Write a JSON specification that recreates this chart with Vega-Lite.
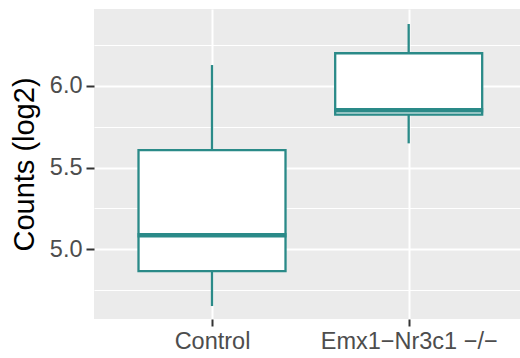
{
  "$schema": "https://vega.github.io/schema/vega-lite/v6.json",
  "width": 426,
  "height": 310,
  "autosize": {"type": "none"},
  "padding": {"left": 94, "right": 0, "top": 9, "bottom": 39},
  "background": "white",
  "data": {
    "values": [
      {"group": "Control", "lower": 4.653, "q1": 4.867, "median": 5.086, "q3": 5.606, "upper": 6.127},
      {"group": "Emx1−Nr3c1 −/−", "lower": 5.648, "q1": 5.824, "median": 5.851, "q3": 6.199, "upper": 6.378}
    ]
  },
  "config": {
    "view": {"fill": "#EBEBEB", "stroke": null},
    "font": "Liberation Sans",
    "axis": {
      "domain": false,
      "labelFont": "Liberation Sans",
      "titleFont": "Liberation Sans",
      "labelColor": "#4D4D4D",
      "gridColor": "#FFFFFF",
      "labelFontSize": 23.5,
      "titleFontSize": 29,
      "titleFontWeight": "normal",
      "titleColor": "#000000"
    }
  },
  "resolve": {"axis": {"y": "independent"}},
  "encoding": {
    "x": {
      "field": "group",
      "type": "nominal",
      "sort": null,
      "scale": {"type": "point", "padding": 0.583, "align": 0.5146},
      "axis": {
        "title": null,
        "labelAngle": 0,
        "grid": true,
        "tickSize": 7,
        "tickWidth": 2,
        "tickColor": "#333333",
        "gridWidth": 2,
        "labelPadding": 3
      }
    }
  },
  "layer": [
    {
      "mark": {"type": "rule", "color": "#2A8A88", "strokeWidth": 2.3},
      "encoding": {
        "y": {
          "field": "lower",
          "type": "quantitative",
          "scale": {"domain": [4.5737, 6.4697], "nice": false, "zero": false},
          "axis": {
            "title": "Counts (log2)",
            "orient": "left",
            "values": [5, 5.5, 6],
            "format": ".1f",
            "grid": true,
            "gridWidth": 2,
            "tickSize": 8,
            "tickWidth": 2,
            "tickColor": "#333333",
            "labelPadding": 4,
            "titlePadding": 10
          }
        },
        "y2": {"field": "upper"}
      }
    },
    {
      "mark": {"type": "bar", "fill": "#FFFFFF", "stroke": "#2A8A88", "strokeWidth": 2.3, "size": 147},
      "encoding": {
        "y": {
          "field": "q1",
          "type": "quantitative",
          "axis": {
            "title": null,
            "orient": "right",
            "values": [4.75, 5.25, 5.75, 6.25],
            "grid": true,
            "gridWidth": 1,
            "labels": false,
            "ticks": false,
            "domain": false
          }
        },
        "y2": {"field": "q3"}
      }
    },
    {
      "mark": {"type": "tick", "color": "#2A8A88", "opacity": 1, "size": 149, "thickness": 4.5},
      "encoding": {
        "y": {"field": "median", "type": "quantitative", "axis": null}
      }
    }
  ]
}
